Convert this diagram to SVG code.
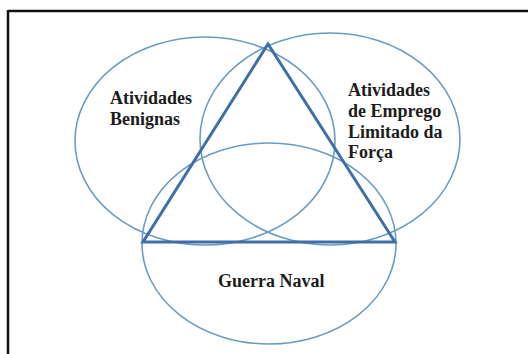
<svg xmlns="http://www.w3.org/2000/svg" width="528" height="354" viewBox="0 0 528 354">
<style>
.frame{stroke:#111;stroke-width:2.5;fill:none}
.circ{fill:none;stroke:#6a9cc2;stroke-width:1.6}
.tri{fill:none;stroke:#3e6fa7;stroke-width:3;stroke-linejoin:miter}
.lbl{font-family:'Liberation Serif',Tinos,'Times New Roman','DejaVu Serif',serif;font-weight:700;font-size:18px;fill:#1c1c1c}
</style>
<rect width="528" height="354" fill="#fff"/>
<g id="frame">
<line class="frame" x1="8" y1="11" x2="528" y2="11"/>
<line class="frame" x1="8" y1="10" x2="8" y2="354"/>
</g>
<g id="benignas">
<ellipse class="circ" cx="205" cy="141" rx="130" ry="104"/>
<text class="lbl" x="110" y="104">Atividades</text>
<text class="lbl" x="110" y="125">Benignas</text>
</g>
<g id="emprego">
<ellipse class="circ" cx="330" cy="139" rx="130" ry="106"/>
<text class="lbl" x="348" y="96">Atividades</text>
<text class="lbl" x="348" y="117">de Emprego</text>
<text class="lbl" x="348" y="138">Limitado da</text>
<text class="lbl" x="348" y="158">Força</text>
</g>
<g id="guerra">
<ellipse class="circ" cx="269" cy="243.5" rx="127" ry="100.5"/>
<text class="lbl" x="218" y="287">Guerra Naval</text>
</g>
<g id="connectors">
<polygon class="tri" points="268,44 143,242 395,242"/>
</g>
</svg>
